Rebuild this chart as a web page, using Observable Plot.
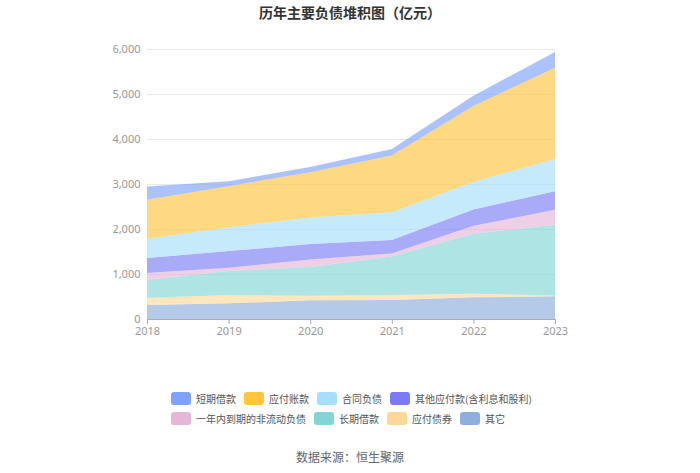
<!DOCTYPE html>
<html>
<head>
<meta charset="utf-8">
<script src="https://cdn.jsdelivr.net/npm/d3@7"></script>
<script src="https://cdn.jsdelivr.net/npm/@observablehq/plot@0.6"></script>
<style>
  html, body { margin: 0; padding: 0; background: #fff; }
  body { font-family: "Noto Sans CJK SC", "Noto Sans", sans-serif; }
  #wrap { position: relative; width: 700px; height: 473px; overflow: hidden; }
  #title { position: absolute; left: 0; top: 0; width: 700px; height: 24px; line-height: 24px; text-align: center; font-size: 14px; font-weight: bold; color: #333; }
  #chart { position: absolute; left: 0; top: 24px; }
  #legend { position: absolute; left: 171px; top: 388px; width: 400px; }
  .row { display: flex; height: 20px; align-items: center; }
  .item { display: flex; align-items: center; margin-right: 8px; font-size: 10px; color: #555; }
  .sw { width: 20px; height: 13px; border-radius: 3px; margin-right: 5px; }
  #source { position: absolute; left: 0; top: 448px; width: 700px; text-align: center; font-size: 12px; color: #666; line-height: 18px; }
</style>
</head>
<body>
<div id="wrap">
  <div id="title">历年主要负债堆积图（亿元）</div>
  <div id="chart"></div>
  <div id="legend"></div>
  <div id="source">数据来源：恒生聚源</div>
</div>
<script>
const years = [2018, 2019, 2020, 2021, 2022, 2023];
// series from bottom of stack to top
const seriesNames = ["其它", "应付债券", "长期借款", "一年内到期的非流动负债", "其他应付款(含利息和股利)", "合同负债", "应付账款", "短期借款"];
const qita      = [311, 348, 414, 422, 481, 503];
const yfzq      = [155, 185, 104, 111,  81,  22];
const cqjk      = [407, 532, 636, 858, 1331, 1568];
const ynndq     = [148,  74, 170,  66, 178, 333];
const qtyfk     = [333, 370, 340, 296, 362, 414];
const htfz      = [429, 525, 592, 621, 614, 718];
const yfzk      = [865, 917, 1006, 1258, 1687, 2026];
const dqjk      = [296, 111, 118, 148, 229, 348];
const seriesValues = [qita, yfzq, cqjk, ynndq, qtyfk, htfz, yfzk, dqjk];
const seriesColors = ["#8eaedd", "#ffd898", "#83d5d5", "#e6b5d7", "#7b7cf5", "#a5dffb", "#ffc53d", "#7fa2fc"];
const legendRows = [
  ["短期借款", "应付账款", "合同负债", "其他应付款(含利息和股利)"],
  ["一年内到期的非流动负债", "长期借款", "应付债券", "其它"]
];
const yTicks = [0, 1000, 2000, 3000, 4000, 5000, 6000];

const data = [];
seriesNames.forEach((name, i) => {
  years.forEach((yr, j) => data.push({year: yr, series: name, value: seriesValues[i][j]}));
});

const chart = Plot.plot({
  width: 700,
  height: 340,
  marginLeft: 147,
  marginRight: 145,
  marginTop: 25,
  marginBottom: 45,
  style: {fontFamily: "'Noto Sans', 'Noto Sans CJK SC', sans-serif", fontSize: "11px", color: "#999", background: "#fff"},
  x: {domain: [2018, 2023], ticks: years, tickFormat: d3.format("d"), tickSize: 5, tickPadding: 3, label: null},
  y: {domain: [0, 6000], ticks: yTicks, tickFormat: d3.format(","), tickSize: 0, tickPadding: 7, label: null},
  color: {domain: seriesNames, range: seriesColors},
  marks: [
    Plot.ruleY(yTicks.filter(d => d > 0), {stroke: "#e8e8f0", strokeWidth: 1}),
    Plot.areaY(data, Plot.stackY({order: seriesNames}, {x: "year", y: "value", z: "series", fill: "series", fillOpacity: 0.65, curve: "linear"})),
    Plot.ruleY([0], {stroke: "#a9acb8", strokeWidth: 1}),
    Plot.axisX({ticks: years, tickFormat: d3.format("d"), tickSize: 5, tickPadding: 3, stroke: "#a9acb8", fill: "#999"}),
    Plot.axisY({ticks: yTicks, tickFormat: d3.format(","), tickSize: 0, tickPadding: 7, fill: "#999"})
  ]
});
document.getElementById("chart").appendChild(chart);

const colorOf = Object.fromEntries(seriesNames.map((n, i) => [n, seriesColors[i]]));
const leg = document.getElementById("legend");
legendRows.forEach(row => {
  const r = document.createElement("div");
  r.className = "row";
  row.forEach(name => {
    const it = document.createElement("div");
    it.className = "item";
    const sw = document.createElement("div");
    sw.className = "sw";
    sw.style.background = colorOf[name];
    const t = document.createElement("span");
    t.textContent = name;
    it.appendChild(sw);
    it.appendChild(t);
    r.appendChild(it);
  });
  leg.appendChild(r);
});
</script>
</body>
</html>
